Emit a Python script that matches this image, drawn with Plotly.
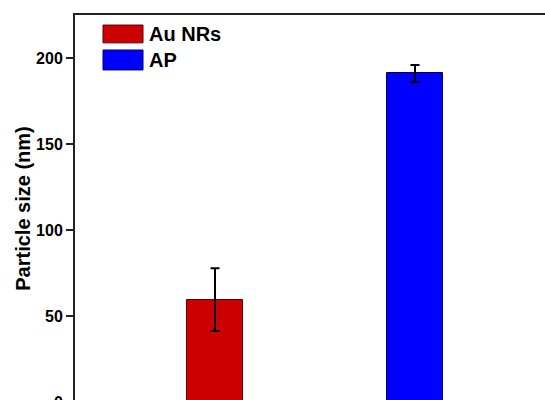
import plotly.graph_objects as go

categories = ["Au NRs", "AP"]
sizes = [59.5, 191.0]
errors = [18.2, 5.0]
colors = ["#CC0000", "#0000FF"]
edge_colors = ["#5a0000", "#00005a"]
positions = [1, 2]

W, H = 545, 440
ml, mr, mt, mb = 75, 0, 15, 38

fig = go.Figure()
for cat, pos, val, err, col, ec in zip(categories, positions, sizes, errors, colors, edge_colors):
    fig.add_trace(go.Bar(
        x=[pos], y=[val], name=cat, width=0.28,
        marker=dict(color=col, line=dict(color=ec, width=1)),
        error_y=dict(type="data", array=[err], visible=True, color="black",
                     thickness=2, width=4.5),
        showlegend=False,
    ))

font_fam = "Liberation Sans, Arial, sans-serif"

# custom legend with large swatches
sw_x0, sw_x1 = 0.0596, 0.1447
rows = [(0.974, 0.928), (0.9096, 0.858)]
for (y1, y0), cat, col, ec in zip(rows, categories, colors, edge_colors):
    fig.add_shape(type="rect", xref="paper", yref="paper",
                  x0=sw_x0, x1=sw_x1, y0=y0, y1=y1,
                  fillcolor=col, line=dict(color=ec, width=1))
    fig.add_annotation(xref="paper", yref="paper", x=0.153, y=(y0 + y1) / 2,
                       text=cat, showarrow=False, xanchor="left", yanchor="middle",
                       font=dict(family=font_fam, size=20, color="black", weight="bold"))

fig.update_layout(
    width=W, height=H,
    margin=dict(l=ml, r=mr, t=mt, b=mb),
    paper_bgcolor="white", plot_bgcolor="white",
    bargap=0,
    xaxis=dict(range=[0.3, 2.65], showticklabels=False, ticks="",
               showline=True, linecolor="#222", linewidth=2, mirror=True,
               showgrid=False, zeroline=False),
    yaxis=dict(range=[0, 225], tickvals=[0, 50, 100, 150, 200],
               ticks="outside", ticklen=7, tickwidth=2, tickcolor="#222",
               showline=True, linecolor="#222", linewidth=2,
               showgrid=False, zeroline=False,
               tickfont=dict(family=font_fam, size=16, color="black", weight="bold"),
               title=dict(text="Particle size (nm)", standoff=0,
                          font=dict(family=font_fam, size=20, color="black", weight="bold"))),
)

fig.write_html("out.html", post_script="document.documentElement.style.overflow='hidden';document.body.style.overflow='hidden';document.body.style.margin='0';")
